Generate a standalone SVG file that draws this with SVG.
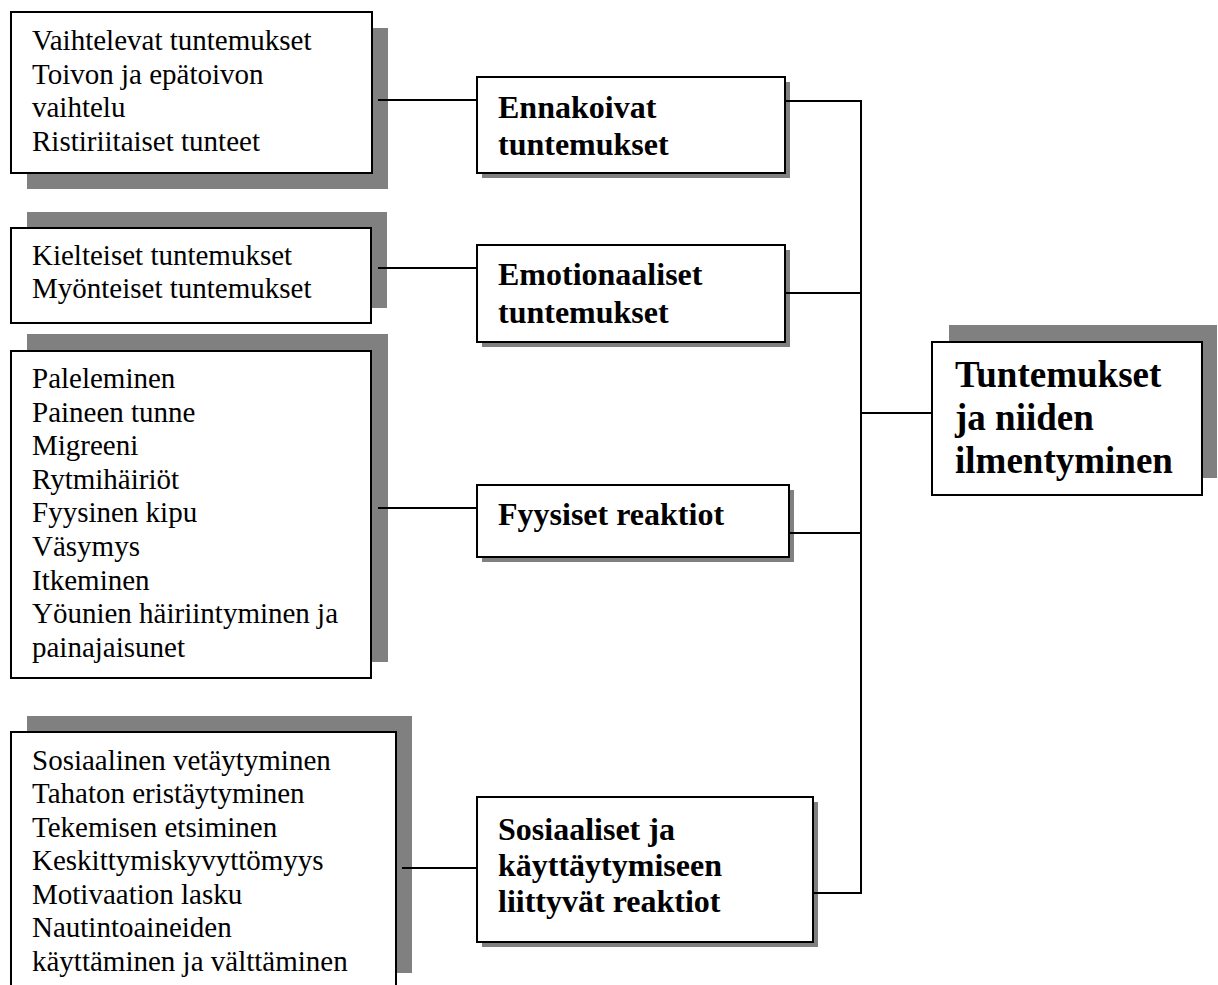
<svg xmlns="http://www.w3.org/2000/svg" width="1218" height="985" viewBox="0 0 1218 985">
  <style>
    .shadow { fill: #808080; }
    .box { fill: #ffffff; stroke: #000000; stroke-width: 2; }
    .item { font-family: "Liberation Serif", "Times New Roman", serif; font-size: 29px; fill: #000000; }
    .head { font-family: "Liberation Serif", "Times New Roman", serif; font-size: 32px; font-weight: bold; fill: #000000; }
    .title { font-family: "Liberation Serif", "Times New Roman", serif; font-size: 37px; font-weight: bold; fill: #000000; }
    .link { stroke: #000000; stroke-width: 2; fill: none; }
  </style>
  <rect width="1218" height="985" fill="#ffffff"/>

  <!-- detail lists on the left -->
  <g id="list-ennakoivat">
    <rect class="shadow" x="27" y="28" width="361" height="161"/>
    <rect class="box" x="11" y="12" width="361" height="161"/>
    <text class="item" x="32" y="50">Vaihtelevat tuntemukset</text>
    <text class="item" x="32" y="84">Toivon ja epätoivon</text>
    <text class="item" x="32" y="117">vaihtelu</text>
    <text class="item" x="32" y="151">Ristiriitaiset tunteet</text>
  </g>

  <g id="list-emotionaaliset">
    <rect class="shadow" x="27" y="212" width="360" height="96"/>
    <rect class="box" x="11" y="228" width="360" height="95"/>
    <text class="item" x="32" y="265">Kielteiset tuntemukset</text>
    <text class="item" x="32" y="298">Myönteiset tuntemukset</text>
  </g>

  <g id="list-fyysiset">
    <rect class="shadow" x="27" y="334" width="361" height="328"/>
    <rect class="box" x="11" y="351" width="360" height="327"/>
    <text class="item" x="32" y="388">Paleleminen</text>
    <text class="item" x="32" y="422">Paineen tunne</text>
    <text class="item" x="32" y="455">Migreeni</text>
    <text class="item" x="32" y="489">Rytmihäiriöt</text>
    <text class="item" x="32" y="522">Fyysinen kipu</text>
    <text class="item" x="32" y="556">Väsymys</text>
    <text class="item" x="32" y="590">Itkeminen</text>
    <text class="item" x="32" y="623">Yöunien häiriintyminen ja</text>
    <text class="item" x="32" y="657">painajaisunet</text>
  </g>

  <g id="list-sosiaaliset">
    <rect class="shadow" x="27" y="716" width="385" height="257"/>
    <rect class="box" x="11" y="732" width="385" height="262"/>
    <text class="item" x="32" y="770">Sosiaalinen vetäytyminen</text>
    <text class="item" x="32" y="803">Tahaton eristäytyminen</text>
    <text class="item" x="32" y="837">Tekemisen etsiminen</text>
    <text class="item" x="32" y="870">Keskittymiskyvyttömyys</text>
    <text class="item" x="32" y="904">Motivaation lasku</text>
    <text class="item" x="32" y="937">Nautintoaineiden</text>
    <text class="item" x="32" y="971">käyttäminen ja välttäminen</text>
  </g>

  <!-- category boxes in the middle -->
  <g id="cat-ennakoivat">
    <rect class="shadow" x="482" y="82" width="308" height="96"/>
    <rect class="box" x="477" y="77" width="308" height="96"/>
    <text class="head" x="498" y="118">Ennakoivat</text>
    <text class="head" x="498" y="155">tuntemukset</text>
  </g>

  <g id="cat-emotionaaliset">
    <rect class="shadow" x="482" y="250" width="308" height="97"/>
    <rect class="box" x="477" y="245" width="308" height="97"/>
    <text class="head" x="498" y="285">Emotionaaliset</text>
    <text class="head" x="498" y="323">tuntemukset</text>
  </g>

  <g id="cat-fyysiset">
    <rect class="shadow" x="482" y="490" width="312" height="72"/>
    <rect class="box" x="477" y="485" width="312" height="72"/>
    <text class="head" x="498" y="525">Fyysiset reaktiot</text>
  </g>

  <g id="cat-sosiaaliset">
    <rect class="shadow" x="482" y="802" width="336" height="145"/>
    <rect class="box" x="477" y="797" width="336" height="145"/>
    <text class="head" x="498" y="840">Sosiaaliset ja</text>
    <text class="head" x="498" y="876">käyttäytymiseen</text>
    <text class="head" x="498" y="912">liittyvät reaktiot</text>
  </g>

  <!-- main topic on the right -->
  <g id="topic">
    <rect class="shadow" x="949" y="325" width="268" height="153"/>
    <rect class="box" x="932" y="342" width="270" height="153"/>
    <text class="title" x="955" y="387">Tuntemukset</text>
    <text class="title" x="955" y="430">ja niiden</text>
    <text class="title" x="955" y="473">ilmentyminen</text>
  </g>

  <!-- connectors -->
  <g id="connectors" class="link">
    <line x1="378" y1="100" x2="477" y2="100"/>
    <line x1="378" y1="268" x2="477" y2="268"/>
    <line x1="378" y1="508" x2="477" y2="508"/>
    <line x1="402" y1="868" x2="477" y2="868"/>
    <line x1="785" y1="101" x2="861" y2="101"/>
    <line x1="785" y1="293" x2="861" y2="293"/>
    <line x1="789" y1="533" x2="861" y2="533"/>
    <line x1="813" y1="893" x2="861" y2="893"/>
    <line x1="861" y1="100" x2="861" y2="894"/>
    <line x1="861" y1="413" x2="932" y2="413"/>
  </g>
</svg>
